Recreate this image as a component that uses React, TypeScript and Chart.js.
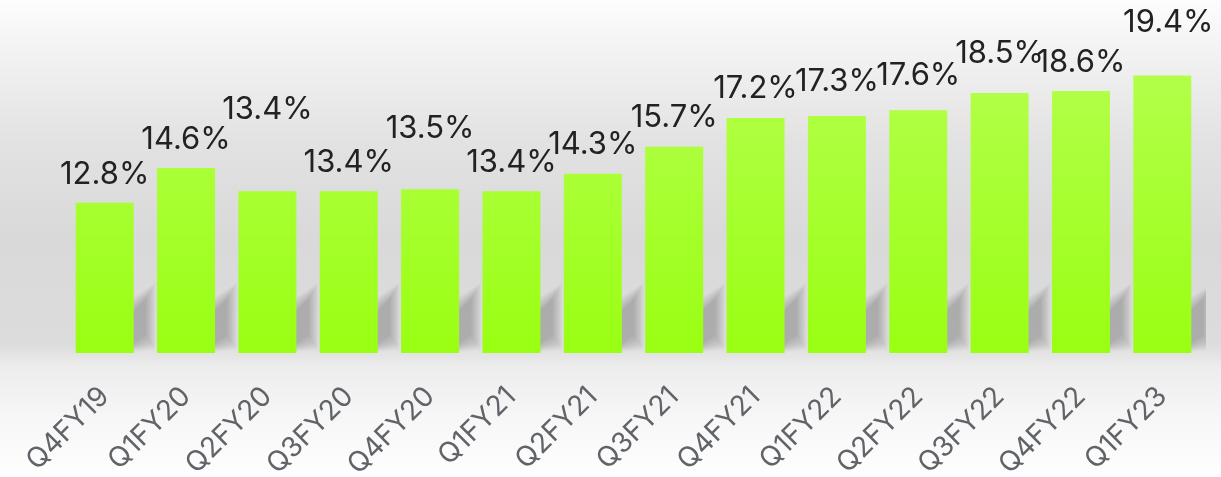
import React, { useEffect, useRef } from "react";
import { Chart, registerables } from "chart.js";

Chart.register(...registerables);

const quarters = [
  "Q4FY19", "Q1FY20", "Q2FY20", "Q3FY20", "Q4FY20", "Q1FY21", "Q2FY21",
  "Q3FY21", "Q4FY21", "Q1FY22", "Q2FY22", "Q3FY22", "Q4FY22", "Q1FY23",
];
const sharePct = [12.8, 14.6, 13.4, 13.4, 13.5, 13.4, 14.3, 15.7, 17.2, 17.3, 17.6, 18.5, 18.6, 19.4];
const valueLabels = ["12.8%", "14.6%", "13.4%", "13.4%", "13.5%", "13.4%", "14.3%", "15.7%", "17.2%", "17.3%", "17.6%", "18.5%", "18.6%", "19.4%"];

// label placement tweaks (styling, in px)
const labelLift = [0, 0, 53, 0, 32, 0, 1, 1, 1, 6, 6, 11, 0, 25];
const labelShiftX = [0, 0, 0, 0, 0, 0, 0, 0, 0, 0, 0, 0, 0, 6];

const BAR_PCT = 0.713;
const FONT = "Inter, 'Noto Sans', 'Liberation Sans', sans-serif";

const decorPlugin = {
  id: "decor",
  beforeDraw(chart: any) {
    const { ctx, width, height, chartArea, scales } = chart;
    ctx.save();
    const g = ctx.createLinearGradient(0, 0, 0, height);
    g.addColorStop(0, "#fdfdfd");
    g.addColorStop(0.1, "#f3f3f3");
    g.addColorStop(0.3, "#e2e2e2");
    g.addColorStop(0.5, "#d9d9d9");
    g.addColorStop(0.72, "#dcdcdc");
    g.addColorStop(0.745, "#e4e4e4");
    g.addColorStop(0.77, "#ededed");
    g.addColorStop(0.88, "#f7f7f7");
    g.addColorStop(1, "#fefefe");
    ctx.fillStyle = g;
    ctx.fillRect(0, 0, width, height);
    ctx.fillStyle = "#e4e4e4";
    ctx.fillRect(chartArea.left, chartArea.bottom, chartArea.right - chartArea.left + 3, 3);

    // soft cast shadows to the right of each bar
    ctx.beginPath();
    ctx.rect(chartArea.left, 0, chartArea.right - chartArea.left + 3, chartArea.bottom);
    ctx.clip();
    const xs = scales.x;
    const half = ((xs.right - xs.left) / quarters.length) * BAR_PCT / 2;
    const base = chartArea.bottom;
    const layers = 9;
    quarters.forEach((_q, i) => {
      const R = xs.getPixelForValue(i) + half;
      for (let k = 0; k < layers; k++) {
        const e = (layers - 1 - k) * 2;
        ctx.fillStyle = "rgba(80,80,80,0.04)";
        ctx.beginPath();
        ctx.moveTo(R - 6, base - 6 + e * 0.3);
        ctx.lineTo(R - 6, base - 36 - e);
        ctx.lineTo(R + 12 + e * 0.6, base - 54 - e);
        ctx.lineTo(R + 12 + e * 0.6, base - 18 + e * 0.9);
        ctx.closePath();
        ctx.fill();
      }
    });
    ctx.restore();
  },
  afterDraw(chart: any) {
    const { ctx } = chart;
    const meta = chart.getDatasetMeta(0);
    ctx.save();
    ctx.font = `31px ${FONT}`;
    ctx.fillStyle = "#222222";
    ctx.textAlign = "center";
    ctx.textBaseline = "alphabetic";
    meta.data.forEach((bar: any, i: number) => {
      ctx.fillText(valueLabels[i], bar.x + labelShiftX[i], bar.y - 19 - labelLift[i]);
    });
    ctx.restore();
  },
};

export default function App() {
  const ref = useRef<HTMLCanvasElement | null>(null);
  useEffect(() => {
    if (!ref.current) return;
    const chart = new Chart(ref.current, {
      type: "bar",
      data: {
        labels: quarters,
        datasets: [
          {
            data: sharePct,
            backgroundColor: (c: any) => {
              const area = c.chart.chartArea;
              if (!area) return "#a8ff30";
              const g = c.chart.ctx.createLinearGradient(0, area.top, 0, area.bottom);
              g.addColorStop(0, "#b4ff4c");
              g.addColorStop(1, "#99ff12");
              return g;
            },
            borderWidth: 0,
            barPercentage: BAR_PCT,
            categoryPercentage: 1,
          },
        ],
      },
      options: {
        responsive: false,
        animation: false,
        layout: { padding: { left: 64, right: 18, top: 64, bottom: 0 } },
        plugins: { legend: { display: false }, tooltip: { enabled: false } },
        scales: {
          y: { display: false, min: 5, max: 20 },
          x: {
            grid: { display: false, drawTicks: false },
            border: { display: false },
            ticks: {
              autoSkip: false,
              minRotation: 45,
              maxRotation: 45,
              padding: 27,
              color: "#606368",
              font: { family: FONT, size: 28 },
            },
            afterFit: (scale: any) => {
              scale.height = 124;
              scale.paddingLeft = 0;
              scale.paddingRight = 0;
            },
          },
        },
      },
      plugins: [decorPlugin],
    });
    return () => chart.destroy();
  }, []);
  return (
    <div style={{ position: "fixed", left: 0, top: 0, width: 1221, height: 477 }}>
      <canvas ref={ref} width={1221} height={477} />
    </div>
  );
}
